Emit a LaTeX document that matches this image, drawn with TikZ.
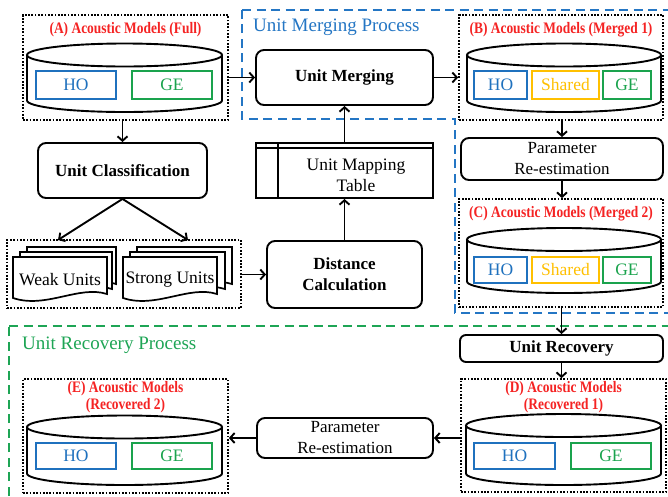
\documentclass[tikz,border=0pt]{standalone}
\usepackage{fontspec}
\setmainfont{Liberation Serif}
\newfontfamily\condserif{Liberation Serif}[FakeStretch=0.84]
\usetikzlibrary{arrows.meta,calc}

\definecolor{hoblue}{RGB}{31,113,190}
\definecolor{gegreen}{RGB}{26,163,77}
\definecolor{shyellow}{RGB}{255,192,0}
\definecolor{titlered}{RGB}{245,35,35}
\definecolor{mergeblue}{RGB}{36,118,196}
\definecolor{recgreen}{RGB}{30,165,85}

\tikzset{
  box/.style={draw, line width=1.9pt, rounded corners=8pt, align=center, inner sep=0pt,
    font=\fontsize{17}{21}\selectfont},
  boldbox/.style={box, font=\fontsize{17}{21}\selectfont\bfseries},
  dotbox/.style={draw, line width=1.7pt, dash pattern=on 1.7pt off 1.6pt, inner sep=0pt},
  amtitle/.style={text=titlered, font=\condserif\fontsize{16}{16.5}\selectfont\bfseries, align=center, inner sep=0pt},
  part/.style={draw=#1, text=#1, line width=2pt, inner sep=0pt, font=\fontsize{17.5}{20}\selectfont},
  drum/.style={line width=1.9pt, fill=white},
  doc/.style={line width=1.7pt, fill=white},
  plain/.style={font=\fontsize{17.5}{21}\selectfont, align=center, inner sep=0pt},
  flow/.style={line width=1.9pt, -{Straight Barb[length=4.5pt,width=10pt,line width=1.9pt]}},
  region/.style={line width=2.3pt, dash pattern=on 9pt off 5.5pt},
}

% storage drum: left x, right x, centre y of top ellipse, lowest y
\newcommand{\amdrum}[4]{%
  \pgfmathsetmacro\drumrx{(#2-#1)/2}
  \draw[drum] (#1,#3) -- (#1,#4-11.5)
    arc[start angle=180, end angle=360, x radius=\drumrx pt, y radius=11.5pt] -- (#2,#3);
  \draw[drum] ({(#1+#2)/2},#3) ellipse[x radius=\drumrx pt, y radius=11.5pt];
}

% one sheet of a document stack: left x, right x, top y
\newcommand{\docsheet}[3]{%
  \draw[doc] (#1,#3) -- (#2,#3) -- (#2,#3+37)
    .. controls ({#2-0.3*(#2-#1)},#3+28) and ({#1+0.35*(#2-#1)},#3+52) .. (#1,#3+41) -- cycle;
}

\begin{document}
\begin{tikzpicture}[x=1pt, y=-1pt]
  \useasboundingbox (0,0) rectangle (668,496);
  \clip (0,0) rectangle (668,496);
  \fill[white] (0,0) rectangle (668,496);

  % process regions
  \draw[region, draw=mergeblue] (242,10) -- (690,10) -- (690,313) -- (455,313) -- (455,119) -- (242,119) -- cycle;
  \draw[region, draw=recgreen] (9,326) -- (690,326) -- (690,520) -- (9,520) -- cycle;
  \node[text=mergeblue, font=\fontsize{19}{22}\selectfont, anchor=west, inner sep=0pt] (mlab) at (253,27) {Unit Merging Process};
  \node[text=recgreen, font=\fontsize{19}{22}\selectfont, anchor=west, inner sep=0pt] (rlab) at (22,345) {Unit Recovery Process};

  % (A) acoustic models, full
  \node[dotbox, minimum width=205pt, minimum height=105pt] (A) at (125.5,67.5) {};
  \node[amtitle] (Atitle) at (125.5,30) {(A) Acoustic Models (Full)};
  \amdrum{27}{222}{55}{112}
  \node[part=hoblue, minimum width=80pt, minimum height=28pt] (hoA) at (76,85) {HO};
  \node[part=gegreen, minimum width=80pt, minimum height=28pt] (geA) at (172,85) {GE};

  % (B) acoustic models, merged 1
  \node[dotbox, minimum width=204pt, minimum height=105pt] (B) at (561,67.5) {};
  \node[amtitle] (Btitle) at (561,30) {(B) Acoustic Models (Merged 1)};
  \amdrum{467}{661}{55}{112}
  \node[part=hoblue, minimum width=53pt, minimum height=28pt] (hoB) at (500.5,85) {HO};
  \node[part=shyellow, minimum width=67pt, minimum height=28pt] (shB) at (565.5,85) {Shared};
  \node[part=gegreen, minimum width=48pt, minimum height=28pt] (geB) at (627,85) {GE};

  % (C) acoustic models, merged 2
  \node[dotbox, minimum width=204pt, minimum height=108pt] (C) at (561,253) {};
  \node[amtitle] (Ctitle) at (561,214) {(C) Acoustic Models (Merged 2)};
  \amdrum{467}{661}{239.5}{293}
  \node[part=hoblue, minimum width=53pt, minimum height=26pt] (hoC) at (500.5,270) {HO};
  \node[part=shyellow, minimum width=67pt, minimum height=26pt] (shC) at (565.5,270) {Shared};
  \node[part=gegreen, minimum width=48pt, minimum height=26pt] (geC) at (627,270) {GE};

  % (D) acoustic models, recovered 1
  \node[dotbox, minimum width=205pt, minimum height=113pt] (D) at (563.5,435.5) {};
  \node[amtitle] (Dtitle) at (563.5,397) {(D) Acoustic Models\\(Recovered 1)};
  \amdrum{466}{661}{425.5}{485}
  \node[part=hoblue, minimum width=81pt, minimum height=26pt] (hoD) at (514.5,456) {HO};
  \node[part=gegreen, minimum width=80pt, minimum height=26pt] (geD) at (611,456) {GE};

  % (E) acoustic models, recovered 2
  \node[dotbox, minimum width=205pt, minimum height=114pt] (E) at (125.5,436) {};
  \node[amtitle] (Etitle) at (125.5,397) {(E) Acoustic Models\\(Recovered 2)};
  \amdrum{27}{222}{427}{485}
  \node[part=hoblue, minimum width=80pt, minimum height=26pt] (hoE) at (76,456) {HO};
  \node[part=gegreen, minimum width=80pt, minimum height=26pt] (geE) at (172,456) {GE};

  % processing steps
  \node[boldbox, minimum width=177pt, minimum height=55pt] (UM) at (344.5,77.5) {Unit Merging};
  \node[boldbox, minimum width=169pt, minimum height=55pt] (cls) at (122.5,170.5) {Unit Classification};
  \node[boldbox, minimum width=155pt, minimum height=67pt] (dist) at (344.5,274.5) {Distance\\Calculation};
  \node[box, minimum width=202pt, minimum height=42pt] (P1) at (562,159) {Parameter\\Re-estimation};
  \node[boldbox, rounded corners=6pt, minimum width=203pt, minimum height=27pt] (UR) at (561.5,348.5) {Unit Recovery};
  \node[box, minimum width=176pt, minimum height=40pt] (P2) at (345,438) {Parameter\\Re-estimation};

  % unit mapping table
  \node[draw, line width=1.9pt, minimum width=177pt, minimum height=55pt, inner sep=0pt] (tbl) at (344.5,170.5) {};
  \draw[line width=1.7pt] ($(tbl.north west)+(0,6)$) -- ($(tbl.north east)+(0,6)$);
  \draw[line width=1.7pt] ($(tbl.north west)+(23,0)$) -- ($(tbl.south west)+(23,0)$);
  \node[plain] (tbltxt) at (356,175) {Unit Mapping\\Table};

  % weak / strong unit document stacks
  \node[dotbox, minimum width=234pt, minimum height=68pt] (grp) at (124,274) {};
  \docsheet{27}{116}{247}
  \docsheet{20}{112}{252}
  \docsheet{13}{107}{257}
  \docsheet{137}{232}{247}
  \docsheet{130}{225}{252}
  \docsheet{123}{217}{257}
  \node[plain] (weak) at (60,280) {Weak Units};
  \node[plain] (strong) at (170,280) {Strong Units};
  \coordinate (wk) at (58,240);
  \coordinate (st) at (188,240);

  % connectors
  \draw[flow] (A.east |- UM.west) -- (UM.west);
  \draw[flow] (UM.east) -- (UM.east -| B.west);
  \draw[flow] (A.south -| cls.north) -- (cls.north);
  \draw[flow] (cls.south) -- (wk);
  \draw[flow] (cls.south) -- (st);
  \draw[flow] (grp.east |- dist.west) -- (dist.west);
  \draw[flow] (dist.north) -- (tbl.south);
  \draw[flow] (tbl.north) -- (UM.south);
  \draw[flow] (B.south -| P1.north) -- (P1.north);
  \draw[flow] (P1.south) -- (P1.south |- C.north);
  \draw[flow] (C.south -| UR.north) -- (UR.north);
  \draw[flow] (UR.south) -- (UR.south |- D.north);
  \draw[flow] (D.west |- P2.east) -- (P2.east);
  \draw[flow] (P2.west) -- (P2.west -| E.east);
\end{tikzpicture}
\end{document}
